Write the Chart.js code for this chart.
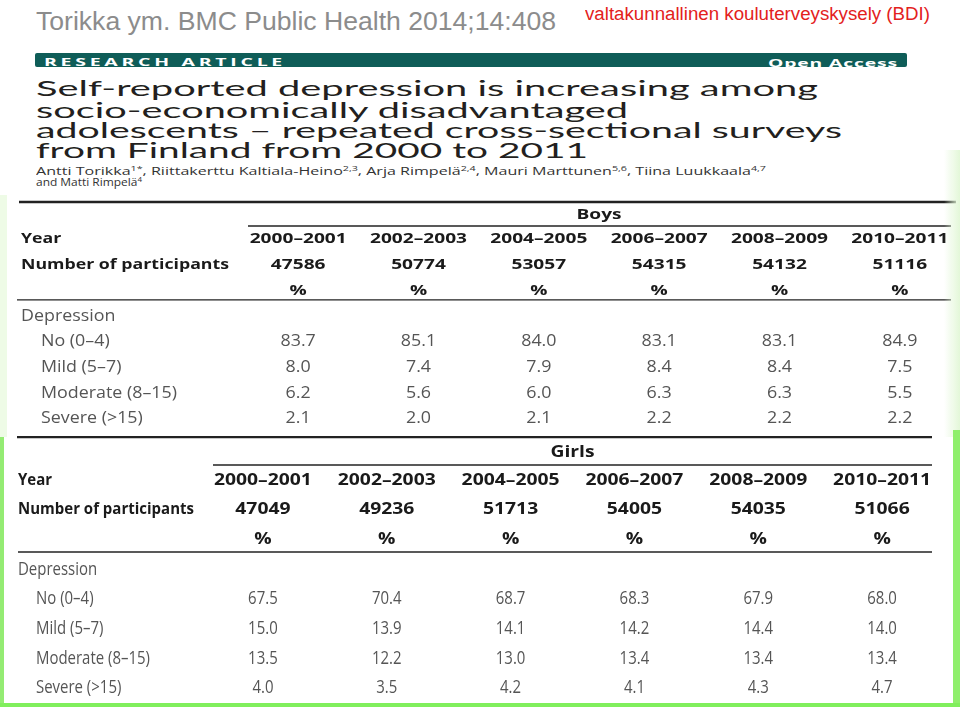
<!DOCTYPE html>
<html>
<head>
<meta charset="utf-8">
<script src="https://cdn.jsdelivr.net/npm/chart.js@4/dist/chart.umd.min.js"></script>
<style>
html, body { margin: 0; padding: 0; background: #fff; }
body { width: 960px; height: 707px; position: relative; overflow: hidden; }
.t { position: absolute; white-space: nowrap; transform-origin: 0 0; line-height: 1; }
.title { font: 400 22px Lato, sans-serif; color: #231f20; }
.auth { font: 400 10.5px "Open Sans", sans-serif; color: #333; }
.auth sup { font-size: 7px; vertical-align: 4px; line-height: 0; }
canvas { position: absolute; left: 0; }
.frame { position: absolute; z-index: 5; }
</style>
</head>
<body>
<div class="t fit" data-w="520" style="left:36px;top:7px;font:25px 'Liberation Sans',Arial,sans-serif;color:#8c8c8c">Torikka ym. BMC Public Health 2014;14:408</div>
<div class="t fit" data-w="345" style="left:585px;top:4px;font:18px 'Liberation Sans',Arial,sans-serif;color:#e3211c">valtakunnallinen kouluterveyskysely (BDI)</div>

<div style="position:absolute;left:35px;top:53px;width:872px;height:14px;background:#0f5d58;border-radius:2px"></div>
<div class="t fit" data-w="242" style="left:44px;top:55.2px;font:700 10.5px 'Open Sans',sans-serif;letter-spacing:2px;color:#fff">RESEARCH ARTICLE</div>
<div class="t fit" data-w="130" style="left:768px;top:55.2px;font:700 11px 'Open Sans',sans-serif;letter-spacing:.5px;color:#fff">Open Access</div>

<div class="t fit title" data-w="782" style="left:36px;top:73.5px">Self-reported depression is increasing among</div>
<div class="t fit title" data-w="592" style="left:36px;top:95.5px">socio-economically disadvantaged</div>
<div class="t fit title" data-w="806" style="left:36px;top:115.5px">adolescents – repeated cross-sectional surveys</div>
<div class="t fit title" data-w="552" style="left:36px;top:135.5px">from Finland from 2000 to 2011</div>

<div class="t fit auth" data-w="730" style="left:36px;top:163.7px">Antti Torikka<sup>1*</sup>, Riittakerttu Kaltiala-Heino<sup>2,3</sup>, Arja Rimpelä<sup>2,4</sup>, Mauri Marttunen<sup>5,6</sup>, Tiina Luukkaala<sup>4,7</sup></div>
<div class="t fit auth" data-w="106" style="left:36px;top:174.7px">and Matti Rimpelä<sup>4</sup></div>

<canvas id="boys" width="960" height="245" style="top:195px"></canvas>
<canvas id="girls" width="960" height="268" style="top:436px"></canvas>

<div class="frame" style="left:0;top:195px;width:7px;height:242px;background:#eefbe6"></div>
<div class="frame" style="left:944px;top:150px;width:16px;height:287px;background:linear-gradient(to right,rgba(255,255,255,0),#e3f7d8)"></div>
<div class="frame" style="left:0;top:437px;width:4px;height:270px;background:#94ec73"></div>
<div class="frame" style="left:953px;top:430px;width:7px;height:277px;background:#8fef6c"></div>
<div class="frame" style="left:0;top:703px;width:960px;height:4px;background:#80ef5c"></div>

<script>
// taulukon arvot (Torikka ym. 2014, BDI)
const years = ['2000–2001', '2002–2003', '2004–2005', '2006–2007', '2008–2009', '2010–2011'];
const depressionLevels = ['No (0–4)', 'Mild (5–7)', 'Moderate (8–15)', 'Severe (>15)'];

const boysParticipants = [47586, 50774, 53057, 54315, 54132, 51116];
const boysNo = [83.7, 85.1, 84.0, 83.1, 83.1, 84.9];
const boysMild = [8.0, 7.4, 7.9, 8.4, 8.4, 7.5];
const boysModerate = [6.2, 5.6, 6.0, 6.3, 6.3, 5.5];
const boysSevere = [2.1, 2.0, 2.1, 2.2, 2.2, 2.2];

const girlsParticipants = [47049, 49236, 51713, 54005, 54035, 51066];
const girlsNo = [67.5, 70.4, 68.7, 68.3, 67.9, 68.0];
const girlsMild = [15.0, 13.9, 14.1, 14.2, 14.4, 14.0];
const girlsModerate = [13.5, 12.2, 13.0, 13.4, 13.4, 13.4];
const girlsSevere = [4.0, 3.5, 4.2, 4.1, 4.3, 4.7];

document.querySelectorAll('.fit').forEach(el => {
    const w = el.getBoundingClientRect().width;
    el.style.transform = `scaleX(${el.dataset.w / w})`;
});

function drawText(ctx, text, x, y, st, align) {
    ctx.save();
    ctx.font = `${st.weight} ${st.size}px "Open Sans", sans-serif`;
    if (!st.sx) st.sx = st.w / ctx.measureText(st.ref).width;
    ctx.translate(x, y + st.size * 0.36);
    ctx.scale(st.sx, 1);
    ctx.fillStyle = st.color;
    ctx.textAlign = align;
    ctx.textBaseline = 'alphabetic';
    ctx.fillText(text, 0, 0);
    ctx.restore();
}

const tableText = {
    id: 'tableText',
    afterDatasetsDraw(chart, args, o) {
        const ctx = chart.ctx, xs = chart.scales.x, ys = chart.scales.y;
        // viivat
        ctx.save();
        ctx.strokeStyle = '#222';
        o.rules.forEach(r => {
            const y = ys.getPixelForValue(r.row);
            ctx.lineWidth = r.w;
            ctx.beginPath(); ctx.moveTo(r.x0, y); ctx.lineTo(r.x1, y); ctx.stroke();
        });
        ctx.restore();
        // otsikko
        const mid = (xs.getPixelForValue(0) + xs.getPixelForValue(years.length - 1)) / 2;
        drawText(ctx, o.title, mid, ys.getPixelForValue(o.titleRow), o.styles.col, 'center');
        // rivien nimet
        o.labels.forEach(l => {
            drawText(ctx, l.text, l.indent ? o.indentX : o.labelX, ys.getPixelForValue(l.row), o.styles[l.kind], 'left');
        });
        // solut
        chart.data.datasets.forEach((ds, d) => {
            chart.getDatasetMeta(d).data.forEach((pt, i) => {
                drawText(ctx, ds.data[i].t, pt.x, pt.y, o.styles[ds.kind], 'center');
            });
        });
    }
};

function makeTable(id, title, participants, shares, cfg) {
    const cellRows = [
        { row: 1, kind: 'col', vals: years },
        { row: 2, kind: 'col', vals: participants.map(String) },
        { row: 3, kind: 'col', vals: years.map(() => '%') },
        ...shares.map((s, k) => ({ row: 5 + k, kind: 'light', vals: s.map(v => v.toFixed(1)) }))
    ];
    const labels = [
        { row: 1, text: 'Year', kind: 'lab' },
        { row: 2, text: 'Number of participants', kind: 'lab' },
        { row: 4, text: 'Depression', kind: 'light' },
        ...depressionLevels.map((t, k) => ({ row: 5 + k, text: t, kind: 'light', indent: true }))
    ];
    new Chart(document.getElementById(id), {
        type: 'scatter',
        data: {
            datasets: cellRows.map(r => ({
                kind: r.kind,
                data: r.vals.map((t, i) => ({ x: i, y: r.row, t })),
                pointRadius: 0
            }))
        },
        options: {
            responsive: false,
            animation: false,
            events: [],
            layout: { padding: { left: cfg.padLeft, right: cfg.padRight, top: 0, bottom: 0 } },
            scales: {
                x: { type: 'linear', min: -0.5, max: years.length - 0.5, display: false },
                y: { type: 'linear', reverse: true, min: cfg.yMin, max: cfg.yMax, display: false }
            },
            plugins: {
                legend: { display: false },
                tooltip: { enabled: false },
                tableText: {
                    title, titleRow: cfg.titleRow, labels, rules: cfg.rules,
                    labelX: cfg.labelX, indentX: cfg.indentX, styles: cfg.styles
                }
            }
        },
        plugins: [tableText]
    });
}

makeTable('boys', 'Boys', boysParticipants, [boysNo, boysMild, boysModerate, boysSevere], {
    padLeft: 238, padRight: 0, yMin: -0.673, yMax: 8.86, titleRow: 0.07,
    labelX: 21, indentX: 41,
    rules: [
        { row: -0.40, x0: 19, x1: 956, w: 2.5 },
        { row: 0.533, x0: 248, x1: 951, w: 1.3 },
        { row: 3.41, x0: 17, x1: 951, w: 1.3 }
    ],
    styles: {
        col: { weight: 700, size: 14.5, color: '#1a1a1a', ref: '2000–2001', w: 97 },
        lab: { weight: 700, size: 14.5, color: '#1a1a1a', ref: 'Number of participants', w: 208 },
        light: { weight: 400, size: 15.5, color: '#555', ref: 'Moderate (8–15)', w: 136 }
    }
});

makeTable('girls', 'Girls', girlsParticipants, [girlsNo, girlsMild, girlsModerate, girlsSevere], {
    padLeft: 201, padRight: 16, yMin: -0.448, yMax: 8.576, titleRow: 0.057,
    labelX: 18, indentX: 36,
    rules: [
        { row: -0.414, x0: 17, x1: 932, w: 2.5 },
        { row: 0.528, x0: 213, x1: 932, w: 1.3 },
        { row: 3.458, x0: 18, x1: 932, w: 1.5 }
    ],
    styles: {
        col: { weight: 700, size: 15.5, color: '#1a1a1a', ref: '2000–2001', w: 98 },
        lab: { weight: 700, size: 15.5, color: '#1a1a1a', ref: 'Number of participants', w: 176 },
        light: { weight: 400, size: 18, color: '#555', ref: 'Moderate (8–15)', w: 114 }
    }
});
</script>
</body>
</html>
